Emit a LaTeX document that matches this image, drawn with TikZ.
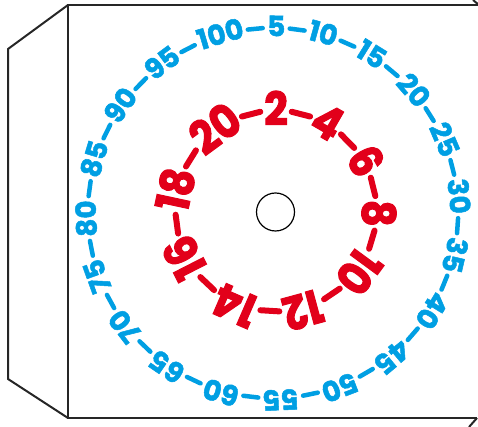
\documentclass[tikz,border=0pt]{standalone}
\usepackage{fontspec}
\setmainfont{Poppins}[BoldFeatures={FakeBold=1.8}]
\newfontfamily\innerfam{Poppins}[FakeStretch=0.9, BoldFeatures={FakeBold=2.2, FakeStretch=0.9}]
\usetikzlibrary{calc}
\definecolor{ringblue}{HTML}{009FE3}
\definecolor{ringred}{HTML}{E2001A}
\newcommand\outfont{\fontsize{28}{28}\selectfont\bfseries}
\newcommand\infont{\innerfam\fontsize{46}{46}\selectfont\bfseries}
\newlength\numw
\newcommand\measure[3]{% #1 prefix, #2 font, #3 list
  \foreach \n in {#3}{\settowidth\numw{#2\n}\expandafter\xdef\csname #1w\n\endcsname{\the\numw}}}
\AtBeginDocument{\measure{o}{\outfont}{5,10,...,100}\measure{i}{\infont}{2,4,...,20}}
\tikzset{
  boxline/.style={line width=2pt, draw=black!85, line join=miter},
  outnum/.style={text=ringblue, font=\outfont, inner sep=0pt},
  innum/.style={text=ringred, font=\infont, inner sep=0pt},
  outdash/.style={draw=ringblue, line width=4.5pt, line cap=round},
  indash/.style={draw=ringred, line width=6pt, line cap=round},
}
\begin{document}
\begin{tikzpicture}[x=1pt,y=1pt]
\path[use as bounding box] (0,0) rectangle (478,427);
% box
\draw[boxline] (68,422) -- (8,378) -- (8,48) -- (68,9);
\draw[boxline] (478,422) -- (68,422) -- (68,9) -- (477,9);
\draw[boxline] (473,427) -- (479,422);
\draw[boxline] (477,9) -- (469,0);
% centres
\coordinate (oc) at (273,214);
\coordinate (ic) at (276,216);
\node[draw=black, line width=1.2pt, circle, minimum size=38pt, inner sep=0pt] (hole) at (275.5,215) {};
% ---------- outer ring ----------
\def\R{187}
\def\dl{15}
\gdef\tot{0}
\foreach \n in {5,10,...,100}{\pgfmathparse{\tot+\csname ow\n\endcsname+\dl}\xdef\tot{\pgfmathresult}}
\pgfmathparse{(2*pi*\R-\tot)/40}\xdef\gap{\pgfmathresult}
\pgfmathparse{89+(\csname ow5\endcsname/2)/\R*180/pi}\xdef\cur{\pgfmathresult}
\foreach \n in {5,10,...,100}{
  \edef\w{\csname ow\n\endcsname}
  \pgfmathsetmacro\ac{\cur-(\w/2)/\R*180/pi}
  \node[outnum, rotate=\ac-90] (o\n) at ([shift={(\ac:\R)}]oc) {\n};
  \pgfmathsetmacro\ad{\cur-(\w+\gap+\dl/2)/\R*180/pi}
  \draw[outdash] ([shift={(\ad:\R-2)}]oc) ++(\ad+90:\dl/2) -- ++(\ad-90:\dl);
  \pgfmathparse{\cur-(\w+2*\gap+\dl)/\R*180/pi}\xdef\cur{\pgfmathresult}
}
% ---------- inner ring ----------
\def\R{103}
\def\dl{19}
\gdef\tot{0}
\foreach \n in {2,4,...,20}{\pgfmathparse{\tot+\csname iw\n\endcsname+\dl}\xdef\tot{\pgfmathresult}}
\pgfmathparse{(2*pi*\R-\tot)/20}\xdef\gap{\pgfmathresult}
\pgfmathparse{90+(\csname iw2\endcsname/2)/\R*180/pi}\xdef\cur{\pgfmathresult}
\foreach \n in {2,4,...,20}{
  \edef\w{\csname iw\n\endcsname}
  \pgfmathsetmacro\ac{\cur-(\w/2)/\R*180/pi}
  \node[innum, rotate=\ac-90] (i\n) at ([shift={(\ac:\R)}]ic) {\n};
  \pgfmathsetmacro\ad{\cur-(\w+\gap+\dl/2)/\R*180/pi}
  \draw[indash] ([shift={(\ad:\R-3)}]ic) ++(\ad+90:\dl/2) -- ++(\ad-90:\dl);
  \pgfmathparse{\cur-(\w+2*\gap+\dl)/\R*180/pi}\xdef\cur{\pgfmathresult}
}
\end{tikzpicture}
\end{document}
